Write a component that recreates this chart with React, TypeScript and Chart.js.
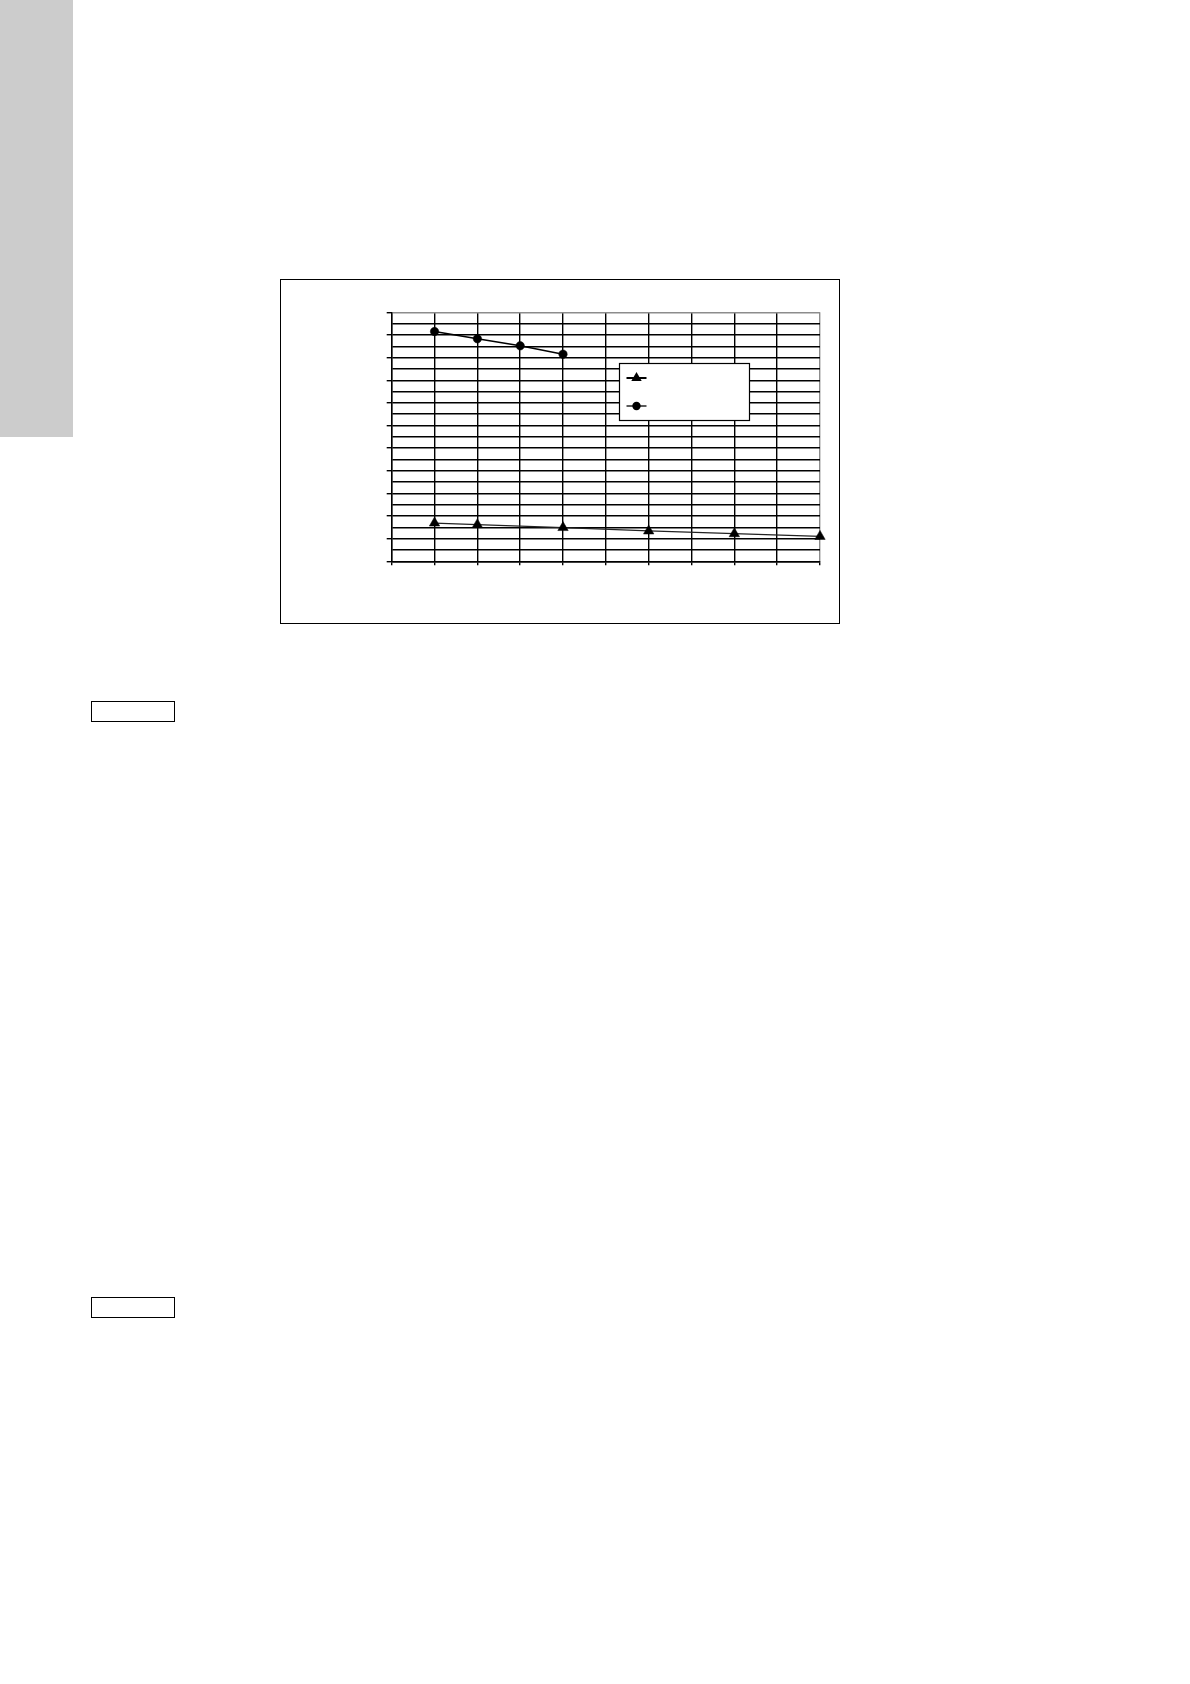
import { useEffect, useRef } from "react"
import { Chart, registerables } from "chart.js"

Chart.register(...registerables)

// valores (eixo x em divisões, eixo y em 0..110)
const circleX = [1, 2, 3, 4]
const circleY = [101.5, 98.3, 95.2, 91.5]
const triangleX = [1, 2, 4, 6, 8, 10]
const triangleY = [16.9, 16.2, 14.9, 13.4, 12.2, 11.0]
const seriesLabels = ["", ""]

const xMax = 10
const yMax = 110

const legendBox = {
  id: "legendBox",
  afterDatasetsDraw(chart: Chart) {
    const { ctx, chartArea } = chart
    const w = chartArea.right - chartArea.left
    const h = chartArea.bottom - chartArea.top
    const x0 = Math.round(chartArea.left + w * 0.531) + 0.5
    const y0 = Math.round(chartArea.top + h * 0.205) + 0.5
    const bw = 130
    const bh = 57
    ctx.save()
    ctx.fillStyle = "#fff"
    ctx.fillRect(x0, y0, bw, bh)
    ctx.strokeStyle = "#000"
    ctx.lineWidth = 1.2
    ctx.strokeRect(x0, y0, bw, bh)

    const rows = [
      { y: y0 + 14.5, style: "triangle", lw: 2 },
      { y: y0 + 42.5, style: "circle", lw: 1.3 },
    ]
    rows.forEach((r) => {
      ctx.beginPath()
      ctx.moveTo(x0 + 7, r.y)
      ctx.lineTo(x0 + 27, r.y)
      ctx.lineWidth = r.lw
      ctx.stroke()
      ctx.fillStyle = "#000"
      ctx.beginPath()
      const cx = x0 + 17
      if (r.style === "triangle") {
        const rad = 6
        ctx.moveTo(cx, r.y - rad)
        ctx.lineTo(cx + rad * 0.866, r.y + rad / 2)
        ctx.lineTo(cx - rad * 0.866, r.y + rad / 2)
        ctx.closePath()
      } else {
        ctx.arc(cx, r.y, 4.2, 0, Math.PI * 2)
      }
      ctx.fill()
    })
    ctx.restore()
  },
}

function LineChart() {
  const chartRef = useRef<HTMLCanvasElement>(null)
  const chartInstance = useRef<Chart | null>(null)

  useEffect(() => {
    if (!chartRef.current) return
    if (chartInstance.current) chartInstance.current.destroy()
    const ctx = chartRef.current.getContext("2d")
    if (!ctx) return

    chartInstance.current = new Chart(ctx, {
      type: "line",
      data: {
        datasets: [
          {
            label: seriesLabels[0],
            data: triangleX.map((x, i) => ({ x, y: triangleY[i] })),
            borderColor: "#222",
            borderWidth: 1.3,
            pointStyle: "triangle",
            pointRadius: 6,
            pointBackgroundColor: "#000",
            pointBorderColor: "#000",
            pointBorderWidth: 0.5,
            tension: 0,
            clip: false,
          },
          {
            label: seriesLabels[1],
            data: circleX.map((x, i) => ({ x, y: circleY[i] })),
            borderColor: "#000",
            borderWidth: 1.5,
            pointStyle: "circle",
            pointRadius: 4.2,
            pointBackgroundColor: "#000",
            pointBorderColor: "#000",
            pointBorderWidth: 0.5,
            tension: 0,
            clip: false,
          },
        ],
      },
      options: {
        responsive: false,
        animation: false,
        events: [],
        layout: { padding: { left: 106.7, top: 33.3, right: 20, bottom: 58.7 } },
        plugins: {
          legend: { display: false },
          tooltip: { enabled: false },
          title: { display: false },
        },
        scales: {
          x: {
            type: "linear",
            min: 0,
            max: xMax,
            ticks: { stepSize: 1, display: false },
            grid: {
              color: (c: any) => (c.tick && c.tick.value === xMax ? "#8c8c8c" : "#000"),
              tickColor: "#000",
              lineWidth: 1.4,
              tickLength: 4,
            },
            border: { display: true, color: "#000", width: 1.4 },
          },
          y: {
            type: "linear",
            min: 0,
            max: yMax,
            ticks: { stepSize: 5, display: false },
            grid: {
              color: (c: any) => (c.tick && c.tick.value === yMax ? "#8c8c8c" : "#000"),
              tickColor: (c: any) => (c.tick && c.tick.value % 10 === 0 ? "#000" : "rgba(0,0,0,0)"),
              lineWidth: 1.4,
              tickLength: 5,
            },
            border: { display: true, color: "#000", width: 1.4 },
          },
        },
      },
      plugins: [legendBox],
    })

    return () => {
      if (chartInstance.current) {
        chartInstance.current.destroy()
        chartInstance.current = null
      }
    }
  }, [])

  return <canvas ref={chartRef} width={560} height={345} style={{ position: "absolute", left: 0, top: 0 }} />
}

export default function App() {
  return (
    <div style={{ position: "relative", width: 1100, height: 1600 }}>
      <div style={{ position: "fixed", left: 0, top: 0, width: 73, height: 437, background: "#cccccc" }} />
      <div style={{ position: "absolute", left: 272, top: 271, width: 560, height: 345 }}>
        <LineChart />
        <div
          style={{
            position: "absolute",
            left: 0,
            top: 0,
            width: 560,
            height: 345,
            border: "1.3px solid #000",
            boxSizing: "border-box",
            pointerEvents: "none",
          }}
        />
      </div>
      <div
        style={{
          position: "absolute",
          left: 83,
          top: 693,
          width: 84,
          height: 21,
          border: "1.3px solid #000",
          boxSizing: "border-box",
        }}
      />
      <div
        style={{
          position: "absolute",
          left: 83,
          top: 1289,
          width: 84,
          height: 21,
          border: "1.3px solid #000",
          boxSizing: "border-box",
        }}
      />
    </div>
  )
}
